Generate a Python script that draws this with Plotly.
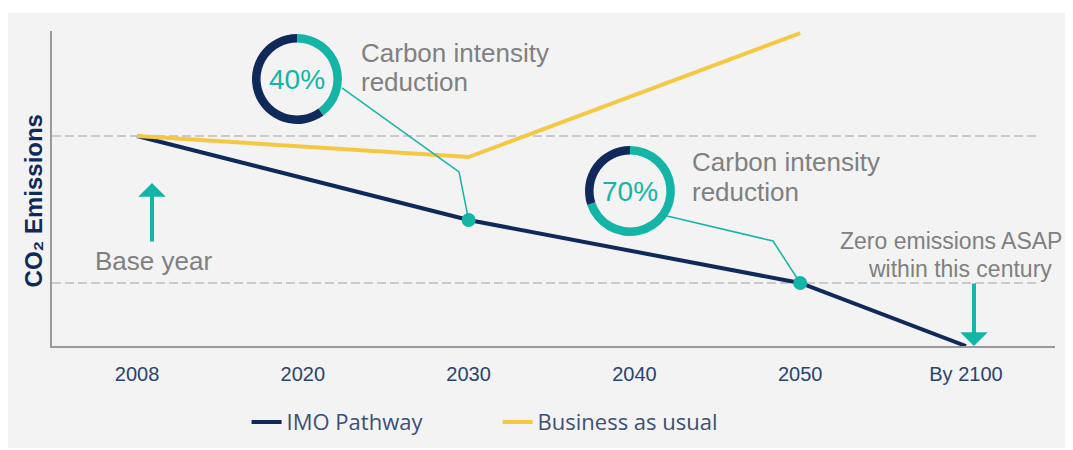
import plotly.graph_objects as go

# ---- data -------------------------------------------------------------
years = ["2008", "2020", "2030", "2040", "2050", "By 2100"]
imo_pathway = [100, None, 60, None, 30, 0]
business_as_usual = [100, None, 90, None, 149, None]
milestone_years = ["2030", "2050"]
milestone_values = [60, 30]
intensity_cut = [40, 70]

# ---- style ------------------------------------------------------------
NAVY = "#10295b"
TEAL = "#14b5a6"
YELLOW = "#f5c843"
GREY_TXT = "#808080"
TICK_TXT = "#2b4370"
PANEL = "#f3f3f3"
ANNOT_FONT = "Liberation Sans, Arial, sans-serif"

fig = go.Figure()

fig.add_trace(go.Scatter(
    x=years, y=imo_pathway, name="IMO Pathway", mode="lines",
    connectgaps=True, line=dict(color=NAVY, width=4), hoverinfo="skip"))
fig.add_trace(go.Scatter(
    x=years, y=business_as_usual, name="Business as usual", mode="lines",
    connectgaps=True, line=dict(color=YELLOW, width=4), hoverinfo="skip"))
fig.add_trace(go.Scatter(
    x=milestone_years, y=milestone_values, mode="markers", showlegend=False,
    marker=dict(color=TEAL, size=14), hoverinfo="skip"))

# ---- donut rings (domain fractions of the plot area) ------------------
rings = [
    dict(cut=intensity_cut[0], x=[0.1994, 0.2891], y=[0.7048, 0.9905]),
    dict(cut=intensity_cut[1], x=[0.5314, 0.6211], y=[0.349, 0.635]),
]
for r in rings:
    fig.add_trace(go.Pie(
        values=[r["cut"], 100 - r["cut"]], hole=0.81, sort=False,
        direction="clockwise", rotation=0, textinfo="none",
        marker=dict(colors=[TEAL, NAVY], line=dict(width=0)),
        domain=dict(x=r["x"], y=r["y"]), showlegend=False, hoverinfo="skip"))

shapes = [
    # light panel behind everything
    dict(type="rect", xref="paper", yref="paper", x0=-0.0439, x1=1.01,
         y0=-0.324, y1=1.057, fillcolor=PANEL, line=dict(width=0), layer="below"),
]
# dashed reference lines at the base-year level and the 2050 level
for lvl in (imo_pathway[0], imo_pathway[4]):
    shapes.append(dict(type="line", xref="paper", yref="y", x0=0, x1=0.985,
                       y0=lvl, y1=lvl, layer="below",
                       line=dict(color="#bdbdbd", width=1.5, dash="9px,4px")))
# leader lines from each ring to its milestone
leaders = [
    [(1.236, 122.9), (1.942, 82.9), (2, milestone_values[0])],
    [(3.197, 61.9), (3.836, 50.0), (4, milestone_values[1])],
]
for pts in leaders:
    path = "M " + " L ".join(f"{x},{y}" for x, y in pts)
    shapes.append(dict(type="path", xref="x", yref="y", path=path,
                       line=dict(color=TEAL, width=1.5)))

annotations = []


def label(text, x, y, size, color=GREY_TXT, xanchor="left", **kw):
    annotations.append(dict(text=text, x=x, y=y, xref="paper", yref="paper",
                            xanchor=xanchor, yanchor="middle", showarrow=False,
                            font=dict(family=ANNOT_FONT, size=size, color=color), **kw))


label("Carbon intensity", 0.306, 0.930, 26)
label("reduction", 0.306, 0.838, 26)
label("Carbon intensity", 0.636, 0.584, 26)
label("reduction", 0.636, 0.489, 26)
label(f"{intensity_cut[0]}%", 0.2443, 0.8476, 28, color=TEAL, xanchor="center")
label(f"{intensity_cut[1]}%", 0.5763, 0.492, 28, color=TEAL, xanchor="center")
label("Base year", 0.1012, 0.270, 26, xanchor="center")
label("Zero emissions ASAP", 0.8963, 0.333, 23, xanchor="center")
label("within this century", 0.9053, 0.244, 23, xanchor="center")
label("<b>CO₂ Emissions</b>", -0.018, 0.462, 24, color=NAVY, xanchor="center",
      textangle=-90)

# arrows
annotations.append(dict(x=0.0997, y=0.5175, xref="paper", yref="paper", text="",
                        showarrow=True, ax=0, ay=60, arrowhead=1, arrowsize=1.15,
                        arrowwidth=4, arrowcolor=TEAL, standoff=0))
annotations.append(dict(x=0.9192, y=0.0, xref="paper", yref="paper", text="",
                        showarrow=True, ax=0, ay=-64, arrowhead=1, arrowsize=1.15,
                        arrowwidth=4, arrowcolor=TEAL, standoff=0))

fig.update_layout(
    width=1073, height=450,
    margin=dict(l=52, r=18, t=31, b=104),
    paper_bgcolor="white", plot_bgcolor="rgba(0,0,0,0)",
    shapes=shapes, annotations=annotations,
    showlegend=True,
    legend=dict(orientation="h", x=0.194, y=0.062, yref="container",
                xanchor="left", yanchor="middle",
                entrywidth=206, bgcolor="rgba(0,0,0,0)",
                font=dict(family="Open Sans, sans-serif", size=22, color="#3d5075")),
    xaxis=dict(type="category", categoryorder="array", categoryarray=years,
               range=[-0.513, 5.537], showgrid=False, zeroline=False,
               showline=True, linecolor="#9a9a9a", linewidth=1.5, ticks="",
               tickfont=dict(family=ANNOT_FONT, size=20, color=TICK_TXT),
               ticklabelstandoff=9, fixedrange=True),
    yaxis=dict(range=[0, 150], showgrid=False, zeroline=False, showline=True,
               linecolor="#9a9a9a", linewidth=1.5, showticklabels=False, ticks="",
               fixedrange=True),
)

fig.write_html("out.html")
